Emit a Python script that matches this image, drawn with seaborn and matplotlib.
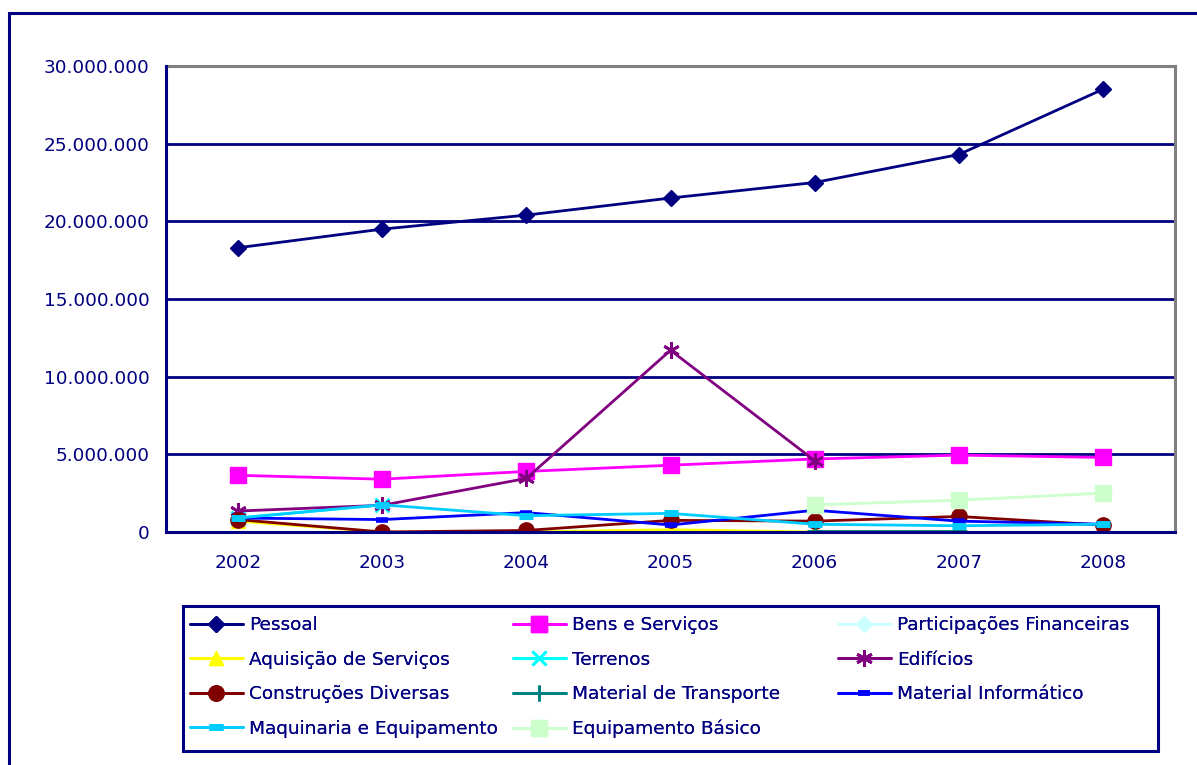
import numpy as np
import pandas as pd
import matplotlib
matplotlib.use("Agg")
import matplotlib.pyplot as plt
import matplotlib.patches as mpatches
from matplotlib.lines import Line2D
import seaborn as sns

years = ["2002", "2003", "2004", "2005", "2006", "2007", "2008"]
nan = np.nan
pessoal = [18.3e6, 19.5e6, 20.4e6, 21.5e6, 22.5e6, 24.3e6, 28.5e6]
bens_servicos = [3.65e6, 3.4e6, 3.9e6, 4.3e6, 4.7e6, 4.95e6, 4.8e6]
participacoes = [nan, nan, nan, nan, nan, nan, nan]
aquisicao = [0.7e6, 0.0, 0.0, 0.15e6, 0.0, 0.0, nan]
terrenos = [0.9e6, 1.75e6, nan, nan, nan, nan, nan]
edificios = [1.35e6, 1.72e6, 3.45e6, 11.7e6, 4.6e6, nan, nan]
construcoes = [0.8e6, 0.0, 0.1e6, 0.75e6, 0.7e6, 1.0e6, 0.45e6]
transporte = [nan, nan, nan, nan, 0.05e6, 0.05e6, nan]
informatico = [0.9e6, 0.8e6, 1.25e6, 0.45e6, 1.4e6, 0.7e6, 0.5e6]
maquinaria = [0.9e6, 1.75e6, 1.05e6, 1.2e6, 0.5e6, 0.4e6, 0.5e6]
equipamento = [nan, nan, nan, nan, 1.75e6, 2.05e6, 2.5e6]

series_names = ["Pessoal", "Bens e Serviços", "Participações Financeiras",
                "Aquisição de Serviços", "Terrenos", "Edifícios",
                "Construções Diversas", "Material de Transporte",
                "Material Informático", "Maquinaria e Equipamento",
                "Equipamento Básico"]
series_values = [pessoal, bens_servicos, participacoes, aquisicao, terrenos,
                 edificios, construcoes, transporte, informatico, maquinaria,
                 equipamento]
y_ticks = [0, 5e6, 10e6, 15e6, 20e6, 25e6, 30e6]
y_tick_labels = ["0", "5.000.000", "10.000.000", "15.000.000", "20.000.000",
                 "25.000.000", "30.000.000"]

styles = {
    "Pessoal": dict(color="#000080", marker="D", ms=8, mec="#000080"),
    "Bens e Serviços": dict(color="#FF00FF", marker="s", ms=11, mec="#FF00FF"),
    "Participações Financeiras": dict(color="#CCFFFF", marker="D", ms=8, mec="#CCFFFF"),
    "Aquisição de Serviços": dict(color="#FFFF00", marker="^", ms=10, mec="#FFFF00"),
    "Terrenos": dict(color="#00FFFF", marker="x", ms=10, mec="#00FFFF", mew=2),
    "Edifícios": dict(color="#800080", marker=(6, 2, 0), ms=12, mec="#800080", mew=2),
    "Construções Diversas": dict(color="#800000", marker="o", ms=11, mec="#800000"),
    "Material de Transporte": dict(color="#008080", marker="+", ms=12, mec="#008080", mew=2),
    "Material Informático": dict(color="#0000FF", marker="_", ms=8, mec="#0000FF", mew=4),
    "Maquinaria e Equipamento": dict(color="#00CCFF", marker="_", ms=10, mec="#00CCFF", mew=5),
    "Equipamento Básico": dict(color="#CCFFCC", marker="s", ms=11, mec="#CCFFCC"),
}

sns.set_style("white")
plt.rcParams["font.family"] = ["DejaVu Sans"]
text_color = "#000080"
FS = 13.3

fig = plt.figure(figsize=(11.97, 7.65), dpi=100)
W, H = 1197, 765
ax = fig.add_axes([166 / W, 1 - 532 / H, (1175 - 166) / W, (532 - 66) / H])

# outer chart border (cropped on right/bottom)
fig.patches.append(mpatches.Rectangle((9 / W, -0.1), 1.2, 1 - 13 / H + 0.1,
                                      transform=fig.transFigure, fill=False,
                                      edgecolor="#000080", lw=2.2, zorder=0))

# gridlines
for t in y_ticks[1:-1]:
    ax.axhline(t, color="#000080", lw=2, zorder=1)

handles = {}
xpos = np.arange(len(years))
for name, vals in zip(series_names, series_values):
    st = styles[name]
    df = pd.DataFrame({"x": xpos, "y": vals}).dropna()
    if len(df):
        sns.lineplot(data=df, x="x", y="y", ax=ax, color=st["color"], lw=2,
                     marker=st["marker"], markersize=st["ms"],
                     markeredgecolor=st["mec"], markeredgewidth=st.get("mew", 1),
                     zorder=3, legend=False)
    handles[name] = Line2D([], [], color=st["color"], lw=2, marker=st["marker"],
                           markersize=st["ms"], markeredgecolor=st["mec"],
                           markeredgewidth=st.get("mew", 1))

ax.set_xlim(-0.5, len(years) - 0.5)
ax.set_ylim(0, 30e6)
ax.set_xticks(np.arange(-0.5, len(years)), labels=[""] * (len(years) + 1))
ax.set_xticks(xpos, labels=years, minor=True)
ax.set_yticks(y_ticks, labels=y_tick_labels)
ax.tick_params(axis="x", which="major", length=6, width=2, color="#000080", direction="out")
ax.tick_params(axis="x", which="minor", length=0, pad=16, labelsize=FS, labelcolor=text_color)
ax.tick_params(axis="y", length=6, width=2, color="#000080", direction="out", pad=6,
               labelsize=FS, labelcolor=text_color)
ax.set_xlabel("")
ax.set_ylabel("")
for s in ["left", "bottom"]:
    ax.spines[s].set_color("#000080")
    ax.spines[s].set_linewidth(2.2)
    ax.spines[s].set_zorder(4)
for s in ["top", "right"]:
    ax.spines[s].set_color("#808080")
    ax.spines[s].set_linewidth(2.2)
    ax.spines[s].set_visible(True)

# legend frame
fig.patches.append(mpatches.Rectangle((183 / W, 1 - 751 / H), (1158 - 183) / W, (751 - 606) / H,
                                      transform=fig.transFigure, fill=True, facecolor="white",
                                      edgecolor="#000080", lw=2.2, zorder=1))
col_x = [190, 513, 838]
for c in range(3):
    idx = list(range(c, len(series_names), 3))
    lg = fig.legend([handles[series_names[i]] for i in idx],
                    [series_names[i] for i in idx],
                    loc="upper left", bbox_to_anchor=(col_x[c] / W, 1 - 616 / H),
                    frameon=False, fontsize=FS, handlelength=2.85,
                    handletextpad=0.35, labelspacing=0.9, borderpad=0,
                    borderaxespad=0, labelcolor=text_color)
    fig.add_artist(lg)

fig.savefig("out.png", dpi=100)
